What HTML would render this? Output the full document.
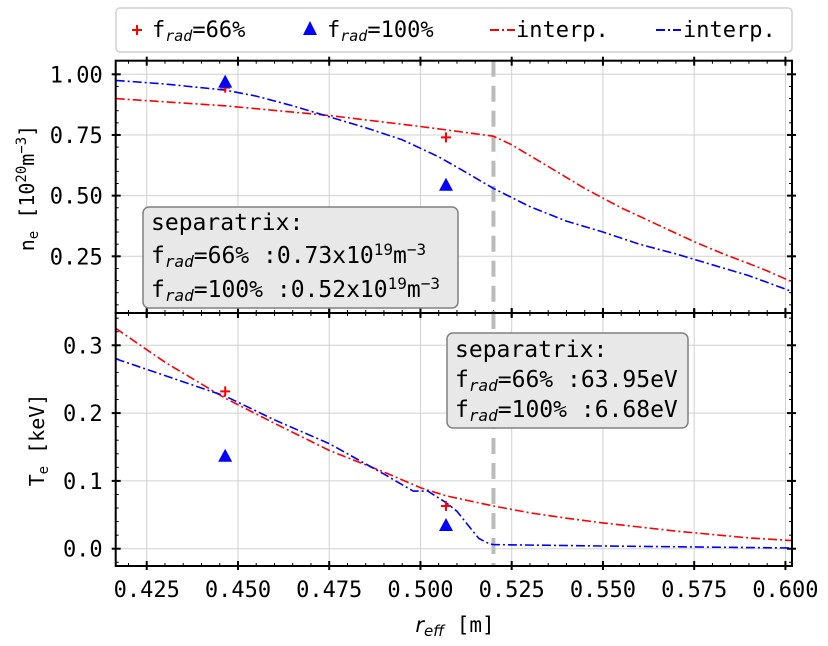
<!DOCTYPE html>
<html><head><meta charset="utf-8"><style>
body{margin:0;background:#fff}
svg{display:block;font-family:"DejaVu Sans Mono","Liberation Mono",monospace}
</style></head><body>
<svg id="c" width="828" height="646" xmlns="http://www.w3.org/2000/svg"></svg>
<script>
const xTicks=[0.425,0.45,0.475,0.5,0.525,0.55,0.575,0.6];
const xTickLabels=["0.425","0.450","0.475","0.500","0.525","0.550","0.575","0.600"];
const neTicks=[0.25,0.5,0.75,1.0];
const neTickLabels=["0.25","0.50","0.75","1.00"];
const teTicks=[0,0.1,0.2,0.3];
const teTickLabels=["0.0","0.1","0.2","0.3"];
const measX=[0.4465,0.507];
const neMeas66=[0.945,0.74];
const neMeas100=[0.97,0.545];
const teMeas66=[0.232,0.063];
const teMeas100=[0.137,0.035];
const neX66=[0.4165,0.4465,0.475,0.5,0.51,0.52,0.525,0.53,0.535,0.54,0.545,0.55,0.555,0.565,0.575,0.583,0.59,0.595,0.6018];
const neInterp66=[0.90,0.87,0.83,0.785,0.765,0.745,0.71,0.665,0.62,0.575,0.53,0.49,0.45,0.38,0.31,0.26,0.22,0.19,0.145];
const neX100=[0.4165,0.43,0.4465,0.455,0.465,0.475,0.485,0.495,0.505,0.512,0.52,0.53,0.54,0.55,0.56,0.57,0.58,0.59,0.6018];
const neInterp100=[0.975,0.96,0.935,0.91,0.87,0.825,0.78,0.73,0.66,0.6,0.53,0.455,0.395,0.35,0.3,0.26,0.215,0.17,0.105];
const teX66=[0.4165,0.43,0.4465,0.46,0.475,0.49,0.5,0.507,0.52,0.53,0.54,0.55,0.56,0.57,0.58,0.59,0.6018];
const teInterp66=[0.325,0.275,0.222,0.185,0.145,0.113,0.09,0.078,0.063,0.053,0.045,0.038,0.032,0.026,0.021,0.016,0.012];
const teX100=[0.4165,0.4465,0.46,0.475,0.49,0.498,0.502,0.507,0.51,0.513,0.516,0.519,0.52,0.55,0.6018];
const teInterp100=[0.28,0.225,0.19,0.155,0.11,0.085,0.085,0.068,0.055,0.035,0.015,0.007,0.006,0.004,0.001];
const separatrix=0.52;

const NS="http://www.w3.org/2000/svg",svg=document.getElementById('c');
function el(t,a,p){const e=document.createElementNS(NS,t);for(const k in a)e.setAttribute(k,a[k]);(p||svg).appendChild(e);return e;}
const L=115.7,R=792,T1=60.7,B1=313,T2=313,B2=566;
const x0=0.4165,x1=0.6018;
const sx=v=>L+(v-x0)/(x1-x0)*(R-L);
const s1=v=>B1-(v-0.0164)/(1.056-0.0164)*(B1-T1);
const s2=v=>B2-(v+0.0255)/(0.3476+0.0255)*(B2-T2);

function panel(name,T,B,sy,ticks,labels,minorStep,ymin,ymax){
  const g=el('g',{});
  
  
  xTicks.forEach(v=>{const l=el('line',{x1:sx(v),x2:sx(v),y1:T,y2:B,stroke:'#d0d0d0','stroke-width':1},g);
    });
  ticks.forEach(v=>{const l=el('line',{x1:L,x2:R,y1:sy(v),y2:sy(v),stroke:'#d0d0d0','stroke-width':1},g);
    });
  for(let v=0.415;v<=0.6016;v+=0.005){const X=sx(v);if(X<L+1||X>R-1)continue;
    const maj=xTicks.some(t=>Math.abs(t-v)<1e-6);const len=maj?5:3;
    el('line',{x1:X,x2:X,y1:B-len,y2:B+(maj?4:0),stroke:'#000','stroke-width':maj?2:1},g);
    el('line',{x1:X,x2:X,y1:T-(maj?4:0),y2:T+len,stroke:'#000','stroke-width':maj?2:1},g);}
  for(let v=ymin;v<=ymax;v+=minorStep){const Y=sy(v);if(Y<T+1||Y>B-1)continue;
    const maj=ticks.some(t=>Math.abs(t-v)<1e-6);const len=maj?5:3;
    el('line',{x1:L-(maj?4:0),x2:L+len,y1:Y,y2:Y,stroke:'#000','stroke-width':maj?2:1},g);
    el('line',{x1:R-len,x2:R+(maj?4:0),y1:Y,y2:Y,stroke:'#000','stroke-width':maj?2:1},g);}
  ticks.forEach((v,i)=>{const t=el('text',{x:L-13,y:sy(v)+8,'text-anchor':'end','font-size':22},g);t.textContent=labels[i];
    });
  const s=el('line',{x1:sx(separatrix),x2:sx(separatrix),y1:T,y2:B,stroke:'#bbbbbb','stroke-width':4,'stroke-dasharray':'16,9'},g);
  
  return g;
}
function curve(xs,ys,sy,color,name){
  const d=xs.map((v,i)=>(i?'L':'M')+sx(v).toFixed(1)+','+sy(ys[i]).toFixed(1)).join(' ');
  const p=el('path',{d:d,fill:'none',stroke:color,'stroke-width':1.6,'stroke-dasharray':'9,3,2,3','stroke-linejoin':'round'});
  
}
function plus(x,y,name){const g=el('g',{stroke:'#ff0000','stroke-width':2});
  el('line',{x1:x-5,x2:x+5,y1:y,y2:y},g);el('line',{x1:x,x2:x,y1:y-5,y2:y+5},g);
  }
function tri(x,y,name){const p=el('polygon',{points:`${x},${y-7} ${x-7},${y+6} ${x+7},${y+6}`,fill:'#0000ff'});
  }

panel('density-panel',T1,B1,s1,neTicks,neTickLabels,0.05,0.0,1.05);
panel('temperature-panel',T2,B2,s2,teTicks,teTickLabels,0.02,-0.02,0.34);
curve(neX66,neInterp66,s1,'#ff0000','ne-interp-66');
curve(neX100,neInterp100,s1,'#0000ff','ne-interp-100');
curve(teX66,teInterp66,s2,'#ff0000','te-interp-66');
curve(teX100,teInterp100,s2,'#0000ff','te-interp-100');
measX.forEach((v,i)=>{plus(sx(v),s1(neMeas66[i]),'ne-point-66');tri(sx(v),s1(neMeas100[i]),'ne-point-100');
  plus(sx(v),s2(teMeas66[i]),'te-point-66');tri(sx(v),s2(teMeas100[i]),'te-point-100');});
[[T1,B1],[T2,B2]].forEach(([T,B])=>{const r=el('rect',{x:L,y:T,width:R-L,height:B-T,fill:'none',stroke:'#000','stroke-width':2});
  });
xTicks.forEach((v,i)=>{const t=el('text',{x:sx(v),y:597,'text-anchor':'middle','font-size':22});t.textContent=xTickLabels[i];
  });
</script>
<svg width="828" height="646" style="position:absolute;left:0;top:0" xmlns="http://www.w3.org/2000/svg" font-family="DejaVu Sans Mono, Liberation Mono, monospace">
<g><text x="455" y="632" text-anchor="middle" font-size="21"><tspan font-style="italic" font-family="DejaVu Sans, sans-serif">r</tspan><tspan font-style="italic" font-family="DejaVu Sans, sans-serif" font-size="15" dy="4">eff</tspan><tspan dy="-4"> [m]</tspan></text></g>
<g><text transform="translate(34,188) rotate(-90)" text-anchor="middle" font-size="20">n<tspan font-size="14" dy="4">e</tspan><tspan dy="-4"> [10</tspan><tspan font-size="14" dy="-8">20</tspan><tspan dy="8">m</tspan><tspan font-size="14" dy="-8">−3</tspan><tspan dy="8">]</tspan></text></g>
<g><text transform="translate(44,440) rotate(-90)" text-anchor="middle" font-size="20">T<tspan font-size="14" dy="4">e</tspan><tspan dy="-4"> [keV]</tspan></text></g>
<g>
<rect x="116" y="8" width="676" height="44" rx="4" fill="#fff" stroke="#d0d0d0" stroke-width="1.5"/>
<g><g stroke="#f00" stroke-width="2"><line x1="132" x2="142" y1="30" y2="30"/><line x1="137" x2="137" y1="25" y2="35"/></g>
<text x="152" y="37" font-size="22">f<tspan font-style="italic" font-size="15" dy="4">rad</tspan><tspan dy="-4">=66%</tspan></text></g>
<g><polygon points="310,21 303,35 317,35" fill="#00f"/>
<text x="327" y="37" font-size="22">f<tspan font-style="italic" font-size="15" dy="4">rad</tspan><tspan dy="-4">=100%</tspan></text></g>
<g><line x1="490" x2="515" y1="30" y2="30" stroke="#f00" stroke-width="2" stroke-dasharray="9,3,2,3"/>
<text x="516" y="37" font-size="22">interp.</text></g>
<g><line x1="656" x2="681" y1="30" y2="30" stroke="#00f" stroke-width="2" stroke-dasharray="9,3,2,3"/>
<text x="683" y="37" font-size="22">interp.</text></g>
</g>
<g>
<rect x="143" y="207" width="315" height="101" rx="6" fill="#e8e8e8" stroke="#808080" stroke-width="1.5"/>
<text x="151" y="230" font-size="23">separatrix:</text>
<text x="151" y="263" font-size="23">f<tspan font-style="italic" font-size="16" dy="4">rad</tspan><tspan dy="-4">=66% :0.73x10</tspan><tspan font-size="16" dy="-8">19</tspan><tspan dy="8">m</tspan><tspan font-size="16" dy="-8">−3</tspan></text>
<text x="151" y="297" font-size="23">f<tspan font-style="italic" font-size="16" dy="4">rad</tspan><tspan dy="-4">=100% :0.52x10</tspan><tspan font-size="16" dy="-8">19</tspan><tspan dy="8">m</tspan><tspan font-size="16" dy="-8">−3</tspan></text>
</g>
<g>
<rect x="447" y="333" width="241" height="95" rx="6" fill="#e8e8e8" stroke="#808080" stroke-width="1.5"/>
<text x="455" y="357" font-size="23">separatrix:</text>
<text x="455" y="387" font-size="23">f<tspan font-style="italic" font-size="16" dy="4">rad</tspan><tspan dy="-4">=66% :63.95eV</tspan></text>
<text x="455" y="417" font-size="23">f<tspan font-style="italic" font-size="16" dy="4">rad</tspan><tspan dy="-4">=100% :6.68eV</tspan></text>
</g>
</svg>
</body></html>
